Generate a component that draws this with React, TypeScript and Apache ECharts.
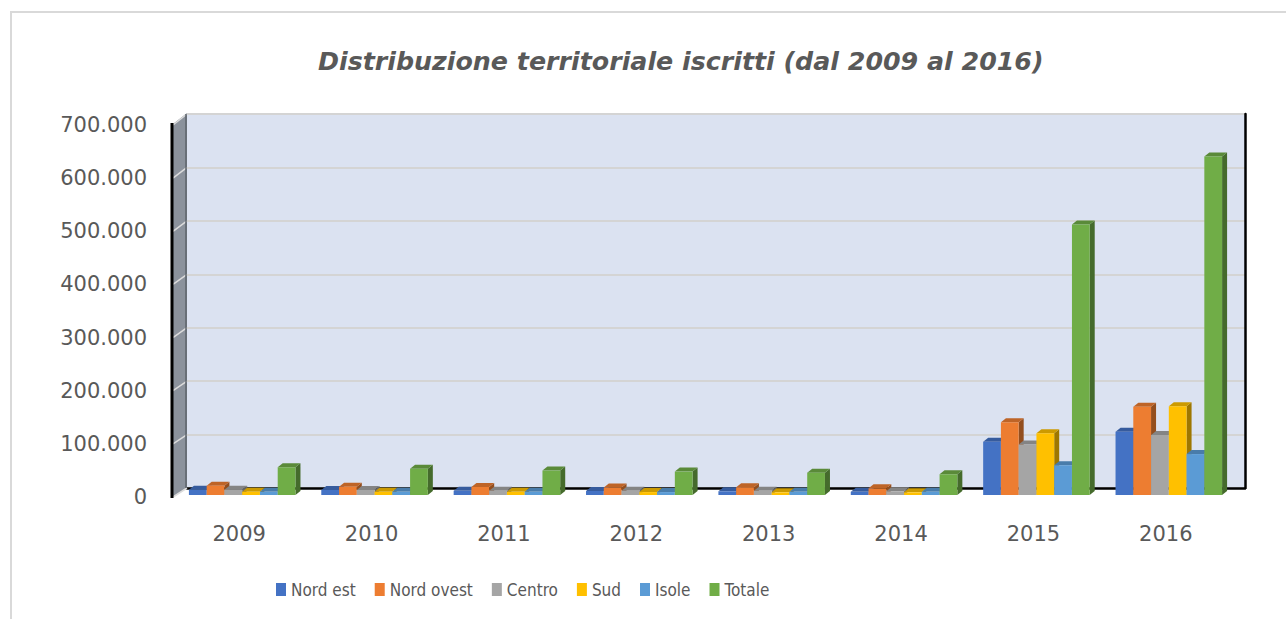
import React, { useEffect, useRef } from "react";
import * as echarts from "echarts";

const years = ["2009", "2010", "2011", "2012", "2013", "2014", "2015", "2016"];
const seriesNames = ["Nord est", "Nord ovest", "Centro", "Sud", "Isole", "Totale"];
const nordEst = [10000, 9400, 8000, 7500, 7000, 6000, 100000, 119000];
const nordOvest = [17500, 15700, 15000, 14000, 14500, 12500, 137000, 166000];
const centro = [10000, 9400, 8000, 8000, 8000, 7000, 95000, 113000];
const sud = [6000, 6000, 6000, 5500, 5000, 5000, 116000, 167000];
const isole = [6000, 6000, 6000, 5500, 6000, 6000, 56000, 77000];
const totale = [52000, 49500, 46000, 44000, 42000, 39000, 509000, 637000];
const seriesValues = [nordEst, nordOvest, centro, sud, isole, totale];
const colors = ["#4472c4", "#ed7d31", "#a5a5a5", "#ffc000", "#5b9bd5", "#70ad47"];
const yTicks = [0, 100000, 200000, 300000, 400000, 500000, 600000, 700000];

const W = 1286;
const H = 619;
const FRONT = { left: 173, right: 1232, top: 125, bottom: 497 };
const BACK = { left: 187, right: 1245, top: 114, bottom: 488 };
const BARP = { left: 176, right: 1235, top: 123, bottom: 495 };
const DEPTH_X = 5;
const DEPTH_Y = -4;
const GROUP_FRAC = 0.805;

function shade(hex: string, f: number): string {
  const n = parseInt(hex.slice(1), 16);
  const r = Math.round(((n >> 16) & 255) * f);
  const g = Math.round(((n >> 8) & 255) * f);
  const b = Math.round((n & 255) * f);
  return "rgb(" + r + "," + g + "," + b + ")";
}

function fmt(v: number): string {
  if (v === 0) return "0";
  const s = String(Math.round(v));
  return s.replace(/\B(?=(\d{3})+(?!\d))/g, ".");
}

function gridOf(p: { left: number; right: number; top: number; bottom: number }) {
  return { left: p.left, width: p.right - p.left, top: p.top, height: p.bottom - p.top };
}

export default function App() {
  const ref = useRef<HTMLDivElement>(null);
  useEffect(() => {
    if (!ref.current) return;
    const chart = echarts.init(ref.current, undefined, { renderer: "svg" });

    const yMax = yTicks[yTicks.length - 1];
    const interval = yTicks[1] - yTicks[0];

    const customSeries = seriesValues.map((vals, si) => ({
      type: "custom",
      name: seriesNames[si],
      xAxisIndex: 2,
      yAxisIndex: 2,
      itemStyle: { color: colors[si] },
      encode: { x: 0, y: 1 },
      data: vals.map((v, j) => [j, v]),
      renderItem: (params: any, api: any) => {
        const cat = api.value(0);
        const val = api.value(1);
        const base = api.coord([cat, 0]);
        const top = api.coord([cat, val]);
        const band = api.size([1, 0])[0];
        const gw = band * GROUP_FRAC;
        const bw = gw / seriesNames.length;
        const x0 = base[0] - gw / 2 + si * bw;
        const x1 = x0 + bw;
        const yb = base[1];
        const yt = top[1];
        const c = colors[si];
        return {
          type: "group",
          children: [
            {
              type: "polygon",
              shape: { points: [[x1, yb], [x1 + DEPTH_X, yb + DEPTH_Y], [x1 + DEPTH_X, yt + DEPTH_Y], [x1, yt]] },
              style: { fill: shade(c, 0.62) },
            },
            {
              type: "polygon",
              shape: { points: [[x0, yt], [x1, yt], [x1 + DEPTH_X, yt + DEPTH_Y], [x0 + DEPTH_X, yt + DEPTH_Y]] },
              style: { fill: shade(c, 0.8) },
            },
            {
              type: "rect",
              shape: { x: x0, y: yt, width: bw, height: yb - yt },
              style: { fill: c },
            },
          ],
        };
      },
    }));

    // left wall decorations
    const wallLines: any[] = [];
    yTicks.forEach((t) => {
      const yf = FRONT.bottom - ((FRONT.bottom - FRONT.top) * t) / yMax;
      const yb = BACK.bottom - ((BACK.bottom - BACK.top) * t) / yMax;
      wallLines.push({
        type: "line",
        z: 3,
        shape: { x1: FRONT.left, y1: yf, x2: BACK.left, y2: yb },
        style: { stroke: "#dcdcdc", lineWidth: 1.5 },
      });
    });

    const option: any = {
      animation: false,
      title: {
        text: "Distribuzione territoriale iscritti (dal 2009 al 2016)",
        left: 313,
        top: 44,
        textStyle: {
          fontFamily: "DejaVu Sans",
          fontStyle: "italic",
          fontWeight: "bold",
          fontSize: 25.3,
          color: "#595959",
        },
      },
      legend: {
        data: seriesNames.map((n) => ({ name: n, icon: "rect" })),
        left: 271,
        top: 576,
        itemWidth: 10,
        itemHeight: 13,
        itemGap: 19,
        textStyle: {
          fontFamily: "'DejaVu Sans Condensed', 'DejaVu Sans', sans-serif",
          fontSize: 17,
          color: "#595959",
        },
      },
      graphic: [
        {
          type: "rect",
          z: 0,
          shape: { x: 11, y: 12, width: 1400, height: 800 },
          style: { fill: "none", stroke: "#d9d9d9", lineWidth: 2 },
        },
        {
          type: "polygon",
          z: 2,
          shape: {
            points: [
              [FRONT.left, FRONT.top - 1],
              [BACK.left, BACK.top - 1],
              [BACK.left, BACK.bottom],
              [FRONT.left, FRONT.bottom],
            ],
          },
          style: { fill: "#8b929c" },
        },
        ...wallLines,
        {
          type: "line",
          z: 4,
          shape: { x1: BACK.left - 1, y1: BACK.top, x2: BACK.left - 1, y2: BACK.bottom },
          style: { stroke: "#5d636b", lineWidth: 1.5 },
        },
        {
          type: "line",
          z: 4,
          shape: { x1: FRONT.left - 1, y1: FRONT.top - 2, x2: FRONT.left - 1, y2: FRONT.bottom + 1 },
          style: { stroke: "#000000", lineWidth: 3 },
        },
      ],
      grid: [
        { ...gridOf(FRONT), containLabel: false },
        { ...gridOf(BACK), show: true, backgroundColor: "#dbe2f1", borderWidth: 0 },
        { ...gridOf(BARP) },
      ],
      xAxis: [
        {
          type: "category",
          gridIndex: 0,
          data: years,
          axisLine: { show: false },
          axisTick: { show: false },
          axisLabel: { fontFamily: "DejaVu Sans", fontSize: 21, color: "#595959", margin: 26 },
        },
        {
          type: "category",
          gridIndex: 1,
          data: years,
          axisLine: { show: true, lineStyle: { color: "#000000", width: 2.5 } },
          axisTick: { show: false },
          axisLabel: { show: false },
        },
        {
          type: "category",
          gridIndex: 2,
          data: years,
          axisLine: { show: false },
          axisTick: { show: false },
          axisLabel: { show: false },
        },
      ],
      yAxis: [
        {
          type: "value",
          gridIndex: 0,
          min: 0,
          max: yMax,
          interval: interval,
          axisLine: { show: false },
          axisTick: { show: false },
          splitLine: { show: false },
          axisLabel: {
            fontFamily: "DejaVu Sans",
            fontSize: 21,
            color: "#595959",
            margin: 26,
            formatter: (v: number) => fmt(v),
          },
        },
        {
          type: "value",
          gridIndex: 1,
          position: "right",
          min: 0,
          max: yMax,
          interval: interval,
          axisLine: { show: true, lineStyle: { color: "#000000", width: 2.5 } },
          axisTick: { show: false },
          axisLabel: { show: false },
          splitLine: { show: true, lineStyle: { color: "#d4d4d4", width: 2 } },
        },
        {
          type: "value",
          gridIndex: 2,
          min: 0,
          max: yMax,
          interval: interval,
          show: false,
          splitLine: { show: false },
        },
      ],
      series: customSeries,
    };
    chart.setOption(option);
    return () => {
      chart.dispose();
    };
  }, []);

  return (
    <div
      ref={ref}
      style={{ position: "fixed", left: 0, top: 0, width: W + "px", height: H + "px", background: "#ffffff" }}
    />
  );
}
